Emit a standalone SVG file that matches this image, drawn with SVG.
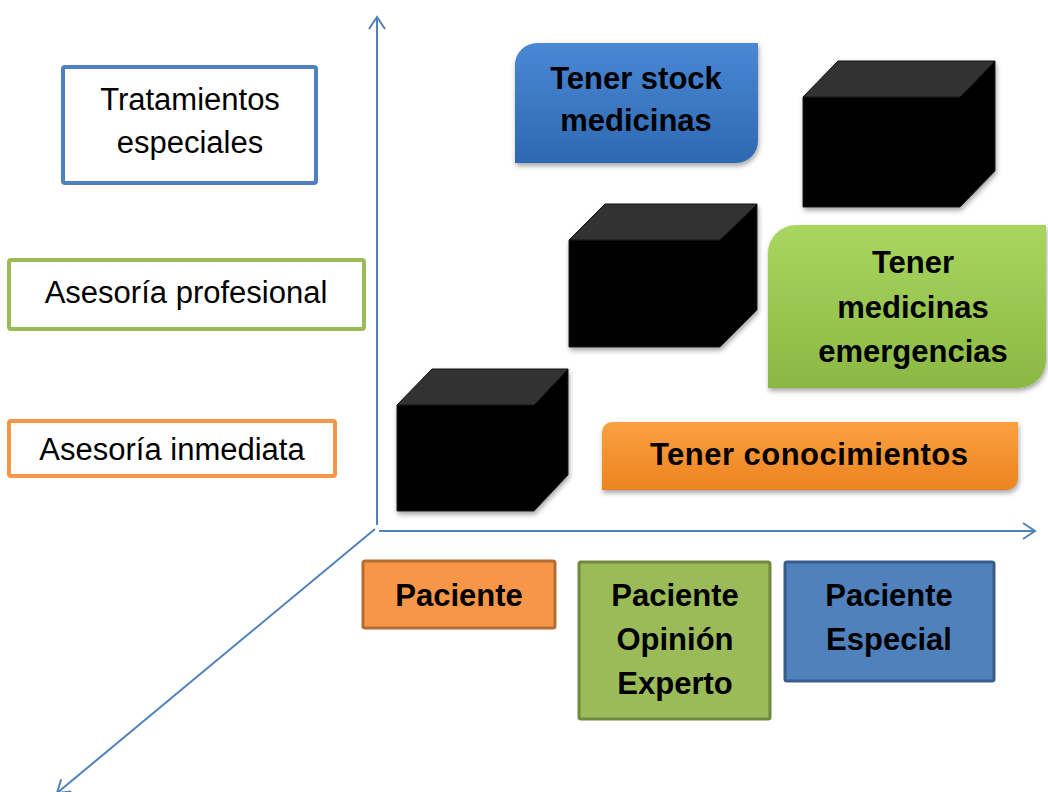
<svg xmlns="http://www.w3.org/2000/svg" width="1048" height="792" viewBox="0 0 1048 792">
<defs>
<style>
.ax{stroke:#4F81BD;stroke-width:2;fill:none}
.lbl{font-family:"Liberation Sans",Arial,sans-serif;font-size:31px;fill:#000;text-anchor:middle}
.b{font-weight:bold}
.lb{fill:#fff;stroke-width:4}
.cf{fill:#000;stroke:#222;stroke-width:1}
.ct{fill:#333;stroke:#111;stroke-width:1}
</style>
<marker id="ah" viewBox="-14 -9 16 18" markerWidth="16" markerHeight="18" refX="0" refY="0" orient="auto" markerUnits="userSpaceOnUse">
<path d="M -12 -8 L 0 0 L -12 8" fill="none" stroke="#4F81BD" stroke-width="2"/>
</marker>
<linearGradient id="gB" x1="0" y1="0" x2="0" y2="1"><stop offset="0" stop-color="#4A88D4"/><stop offset="1" stop-color="#2E68B2"/></linearGradient>
<linearGradient id="gG" x1="0" y1="0" x2="0" y2="1"><stop offset="0" stop-color="#A9D65F"/><stop offset="1" stop-color="#8BB843"/></linearGradient>
<linearGradient id="gO" x1="0" y1="0" x2="0" y2="1"><stop offset="0" stop-color="#FBA040"/><stop offset="1" stop-color="#EC8320"/></linearGradient>
<filter id="sh" x="-10%" y="-10%" width="130%" height="140%"><feDropShadow dx="1" dy="3" stdDeviation="2.5" flood-color="#000" flood-opacity="0.35"/></filter>
</defs>
<rect width="1048" height="792" fill="#fff"/>

<g id="connectors">
<line class="ax" x1="377" y1="525" x2="377" y2="17" marker-end="url(#ah)"/>
<line class="ax" x1="379" y1="531" x2="1035" y2="531" marker-end="url(#ah)"/>
<line class="ax" x1="375" y1="529" x2="57" y2="793" marker-end="url(#ah)"/>
</g>

<g id="tratamientos">
<rect class="lb" x="63" y="67" width="253" height="116" rx="2" stroke="#4F81BD"/>
<text class="lbl" x="190" y="110">Tratamientos</text>
<text class="lbl" x="190" y="153">especiales</text>
</g>
<g id="asesoria-profesional">
<rect class="lb" x="9" y="260" width="355" height="69" rx="2" stroke="#9BBB59"/>
<text class="lbl" x="186" y="303">Asesoría profesional</text>
</g>
<g id="asesoria-inmediata">
<rect class="lb" x="9" y="421" width="326" height="55" rx="2" stroke="#F79646"/>
<text class="lbl" x="172" y="460">Asesoría inmediata</text>
</g>

<g id="cube1" filter="url(#sh)">
<path class="cf" d="M397 405 H534 L568 369 V475 L534 511 H397 Z"/>
<path class="ct" d="M397 405 L432 369 H568 L534 405 Z"/>
</g>
<g id="cube2" filter="url(#sh)">
<path class="cf" d="M569 240 H720 L757 204 V310 L720 347 H569 Z"/>
<path class="ct" d="M569 240 L605 204 H757 L720 240 Z"/>
</g>
<g id="cube3" filter="url(#sh)">
<path class="cf" d="M803 97 H960 L995 61 V171 L960 207 H803 Z"/>
<path class="ct" d="M803 97 L838 61 H995 L960 97 Z"/>
</g>

<g id="tener-stock">
<path d="M537 43 H758 V141 A22 22 0 0 1 736 163 H515 V65 A22 22 0 0 1 537 43 Z" fill="url(#gB)" filter="url(#sh)"/>
<text class="lbl b" x="636" y="89">Tener stock</text>
<text class="lbl b" x="636" y="131">medicinas</text>
</g>
<g id="tener-medicinas">
<path d="M796 225 H1046 V360 A28 28 0 0 1 1018 388 H768 V253 A28 28 0 0 1 796 225 Z" fill="url(#gG)" filter="url(#sh)"/>
<text class="lbl b" x="913" y="273">Tener</text>
<text class="lbl b" x="913" y="318">medicinas</text>
<text class="lbl b" x="913" y="362">emergencias</text>
</g>
<g id="tener-conocimientos">
<path d="M612 422 H1018 V478 A12 12 0 0 1 1006 490 H602 V432 A10 10 0 0 1 612 422 Z" fill="url(#gO)" filter="url(#sh)"/>
<text class="lbl b" x="809" y="465" textLength="318" lengthAdjust="spacing">Tener conocimientos</text>
</g>

<g id="paciente">
<rect x="363" y="561" width="192" height="67" rx="2" fill="#F79646" stroke="#B66D31" stroke-width="3"/>
<text class="lbl b" x="459" y="606">Paciente</text>
</g>
<g id="paciente-opinion">
<rect x="579" y="562" width="191" height="157" rx="2" fill="#9BBB59" stroke="#71893F" stroke-width="3"/>
<text class="lbl b" x="675" y="606">Paciente</text>
<text class="lbl b" x="675" y="650">Opinión</text>
<text class="lbl b" x="675" y="694">Experto</text>
</g>
<g id="paciente-especial">
<rect x="785" y="562" width="209" height="119" rx="2" fill="#4F81BD" stroke="#385D8A" stroke-width="3"/>
<text class="lbl b" x="889" y="606">Paciente</text>
<text class="lbl b" x="889" y="650">Especial</text>
</g>
</svg>
